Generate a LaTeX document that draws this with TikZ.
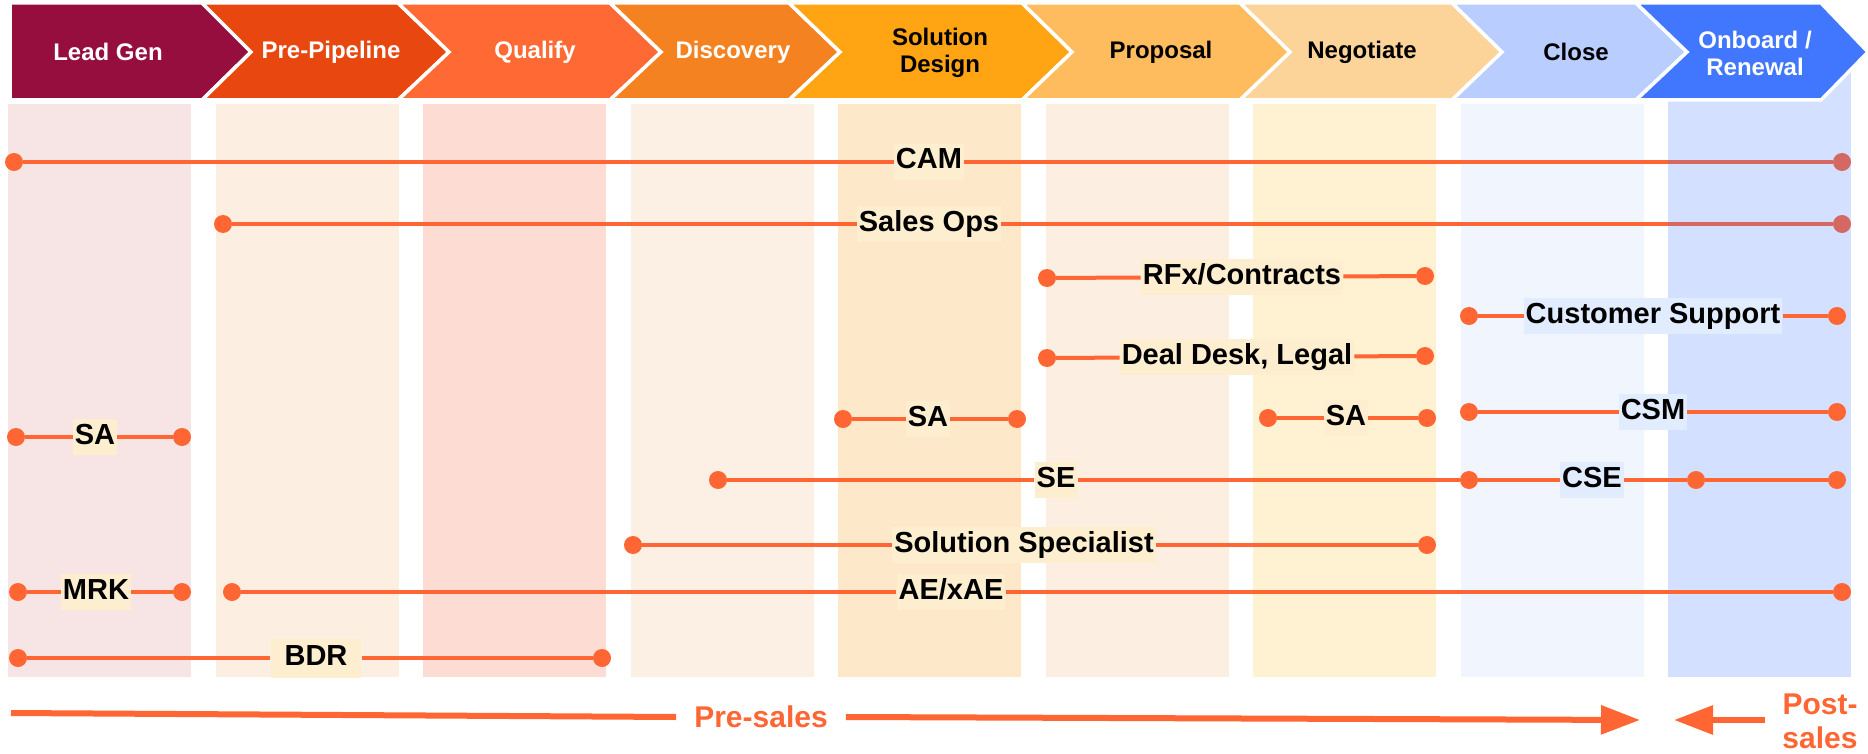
\documentclass[tikz,border=0pt]{standalone}
\usepackage{fontspec}
\setmainfont{Liberation Sans}
\usetikzlibrary{arrows.meta}
\definecolor{hA}{RGB}{150,14,62}
\definecolor{hB}{RGB}{232,72,16}
\definecolor{hC}{RGB}{255,105,52}
\definecolor{hD}{RGB}{245,130,32}
\definecolor{hE}{RGB}{255,164,18}
\definecolor{hF}{RGB}{255,188,94}
\definecolor{hG}{RGB}{252,212,154}
\definecolor{hH}{RGB}{185,206,254}
\definecolor{hI}{RGB}{65,119,255}
\definecolor{cA}{RGB}{247,228,228}
\definecolor{cB}{RGB}{252,239,226}
\definecolor{cC}{RGB}{252,220,211}
\definecolor{cD}{RGB}{252,240,228}
\definecolor{cE}{RGB}{253,233,201}
\definecolor{cF}{RGB}{252,239,226}
\definecolor{cG}{RGB}{255,242,210}
\definecolor{cH}{RGB}{240,245,254}
\definecolor{roleline}{RGB}{255,102,51}
\definecolor{labwarm}{RGB}{252,238,206}
\definecolor{labblue}{RGB}{225,236,254}
\newcommand\hdrfont{\fontsize{24}{27}\selectfont\bfseries}
\newcommand\rolefont{\fontsize{29}{32}\selectfont\bfseries}
\newcommand\phasefont{\fontsize{30}{34}\selectfont\bfseries}
\newcommand\chevshape[5]{\filldraw[chev,fill=#5] (#1,3) -- (#3,3) -- (#4,52) -- (#3,100) -- (#1,100) -- (#2,52) -- cycle;}
\begin{document}
\begin{tikzpicture}[x=1pt,y=-1pt,
  chev/.style={draw=white,line width=3.5pt,line join=miter},
  htxt/.style={font=\hdrfont,text=white,align=center,inner sep=0pt},
  hdark/.style={htxt,text=black},
  colbox/.style={draw=none},
  role/.style={font=\rolefont,fill=labwarm,inner xsep=2pt,inner ysep=5pt,text height=20pt,text depth=6pt},
  roleb/.style={role,fill=labblue},
  dot/.style={circle,fill=roleline,minimum size=18pt,inner sep=0pt},
  rline/.style={draw=roleline,line width=4pt},
  parrow/.style={draw=roleline,line width=6pt},
  phase/.style={font=\phasefont,text=roleline,align=center,inner xsep=18pt,inner ysep=0pt}
]
\useasboundingbox (0,0) rectangle (1868,754);
% columns
\foreach \i/\c in {1/cA,2/cB,3/cC,4/cD,5/cE,6/cF,7/cG,8/cH}
  \fill[colbox,\c] ({8+207.5*(\i-1)},104) rectangle ++(183,573);
% CAM and Sales Ops (under the last column's overlay)
\node[dot] (camL) at (14,162) {};
\node[dot] (camR) at (1842,162) {};
\node[role] (cam) at (929,162) {CAM};
\draw[rline] (camL) -- (cam) -- (camR);
\node[dot] (opsL) at (223,224) {};
\node[dot] (opsR) at (1842,224) {};
\node[role] (ops) at (929,224) {Sales Ops};
\draw[rline] (opsL) -- (ops) -- (opsR);
% last column overlay
\fill[colbox,hI,opacity=0.23] (1668,60) rectangle (1851,677);
% other roles
\node[dot] (rfxL) at (1047,278) {};
\node[dot] (rfxR) at (1425,276) {};
\node[role] (rfx) at (1242,277) {RFx/Contracts};
\draw[rline] (rfxL) -- (rfx) -- (rfxR);
\node[dot] (csL) at (1469,316) {};
\node[dot] (csR) at (1837,316) {};
\node[roleb] (cs) at (1653,316) {Customer Support};
\draw[rline] (csL) -- (cs) -- (csR);
\node[dot] (ddL) at (1047,358) {};
\node[dot] (ddR) at (1425,356) {};
\node[role] (dd) at (1237,357) {Deal Desk, Legal};
\draw[rline] (ddL) -- (dd) -- (ddR);
\node[dot] (saeL) at (843,419) {};
\node[dot] (saeR) at (1017,419) {};
\node[role] (sae) at (928,419) {SA};
\draw[rline] (saeL) -- (sae) -- (saeR);
\node[dot] (sagL) at (1268,418) {};
\node[dot] (sagR) at (1427,418) {};
\node[role] (sag) at (1346,418) {SA};
\draw[rline] (sagL) -- (sag) -- (sagR);
\node[dot] (csmL) at (1469,412) {};
\node[dot] (csmR) at (1837,412) {};
\node[roleb] (csm) at (1653,412) {CSM};
\draw[rline] (csmL) -- (csm) -- (csmR);
\node[dot] (saaL) at (16,437) {};
\node[dot] (saaR) at (182,437) {};
\node[role] (saa) at (95,437) {SA};
\draw[rline] (saaL) -- (saa) -- (saaR);
\node[dot] (seL) at (718,480) {};
\node[role] (se) at (1056,480) {SE};
\node[dot] (cseL) at (1469,480) {};
\node[roleb] (cse) at (1592,480) {CSE};
\node[dot] (cseM) at (1696,480) {};
\node[dot] (cseR) at (1837,480) {};
\draw[rline] (seL) -- (se) -- (cseL) -- (cse) -- (cseM) -- (cseR);
\node[dot] (ssL) at (633,545) {};
\node[dot] (ssR) at (1427,545) {};
\node[role] (ss) at (1024,545) {Solution Specialist};
\draw[rline] (ssL) -- (ss) -- (ssR);
\node[dot] (mrkL) at (18,592) {};
\node[dot] (mrkR) at (182,592) {};
\node[role] (mrk) at (96,592) {MRK};
\draw[rline] (mrkL) -- (mrk) -- (mrkR);
\node[dot] (aeL) at (232,592) {};
\node[dot] (aeR) at (1842,592) {};
\node[role] (ae) at (951,592) {AE/xAE};
\draw[rline] (aeL) -- (ae) -- (aeR);
\node[dot] (bdrL) at (18,658) {};
\node[dot] (bdrR) at (602,658) {};
\node[role,inner xsep=14pt,inner ysep=6.5pt] (bdr) at (316,658) {BDR};
\draw[rline] (bdrL) -- (bdr) -- (bdrR);
% header chevrons
\chevshape{10}{10}{202}{251}{hA}
\chevshape{202}{251}{398}{449}{hB}
\chevshape{398}{449}{610}{661}{hC}
\chevshape{610}{661}{789}{840}{hD}
\chevshape{789}{840}{1022}{1072}{hE}
\chevshape{1022}{1072}{1240}{1290}{hF}
\chevshape{1240}{1290}{1452}{1502}{hG}
\chevshape{1452}{1502}{1636}{1687}{hH}
\chevshape{1636}{1687}{1821}{1868}{hI}
\node[htxt] (h1) at (108,52) {Lead Gen};
\node[htxt] (h2) at (331,52) {Pre-Pipeline};
\node[htxt] (h3) at (535,52) {Qualify};
\node[htxt] (h4) at (733,52) {Discovery};
\node[hdark] (h5) at (940,53) {Solution\\Design};
\node[hdark] (h6) at (1161,52) {Proposal};
\node[hdark] (h7) at (1362,52) {Negotiate};
\node[hdark] (h8) at (1576,52) {Close};
\node[htxt] (h9) at (1755,53) {Onboard /\\Renewal};
% bottom phase arrows
\coordinate (psA) at (11,713);
\coordinate (psB) at (1640,720);
\node[phase] (presales) at (761,717) {Pre-sales};
\draw[parrow] (psA) -- (presales.west);
\draw[parrow,-{Triangle[length=39pt,width=28pt]}] (presales.east) -- (psB);
\coordinate (poA) at (1765,720);
\coordinate (poB) at (1674,720);
\node[phase,inner xsep=0pt] (postsales) at (1820,721) {Post-\\sales};
\draw[parrow,-{Triangle[length=39pt,width=28pt]}] (poA) -- (poB);
\end{tikzpicture}
\end{document}
